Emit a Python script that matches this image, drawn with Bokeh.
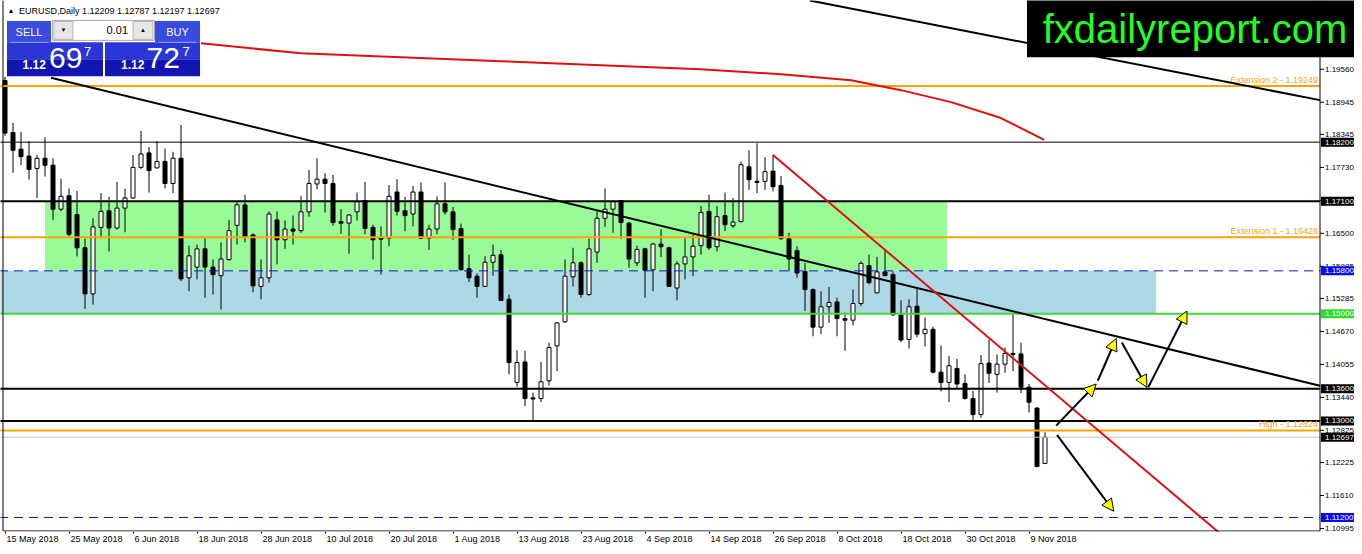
from bokeh.plotting import figure
from bokeh.models import ColumnDataSource, FixedTicker, Arrow, NormalHead, Range1d
from bokeh.core.properties import value
from bokeh.embed import file_html
from bokeh.resources import INLINE

# EURUSD daily bars, 15 May 2018 .. 13 Nov 2018 (index = bar position on chart)
opens = [1.1935, 1.1838, 1.1807, 1.1794, 1.1771, 1.1790, 1.1777, 1.1695, 1.1720, 1.1685,
         1.1623, 1.1537, 1.1661, 1.1692, 1.1660, 1.1697, 1.1716, 1.1773, 1.1800, 1.1772,
         1.1784, 1.1743, 1.1790, 1.1567, 1.1587, 1.1621, 1.1587, 1.1571, 1.1601, 1.1665,
         1.1703, 1.1647, 1.1551, 1.1567, 1.1675, 1.1638, 1.1658, 1.1655, 1.1690, 1.1742,
         1.1751, 1.1743, 1.1672, 1.1669, 1.1690, 1.1711, 1.1661, 1.1642, 1.1641, 1.1727,
         1.1692, 1.1686, 1.1727, 1.1641, 1.1658, 1.1705, 1.1690, 1.1659, 1.1584, 1.1570,
         1.1551, 1.1596, 1.1610, 1.1527, 1.1372, 1.1410, 1.1343, 1.1342, 1.1375, 1.1440,
         1.1485, 1.1569, 1.1595, 1.1536, 1.1615, 1.1678, 1.1695, 1.1711, 1.1669, 1.1595,
         1.1621, 1.1582, 1.1630, 1.1623, 1.1548, 1.1593, 1.1606, 1.1627, 1.1691, 1.1625,
         1.1683, 1.1664, 1.1672, 1.1774, 1.1747, 1.1747, 1.1766, 1.1739, 1.1640, 1.1618,
         1.1579, 1.1545, 1.1475, 1.1513, 1.1522, 1.1491, 1.1488, 1.1519, 1.1590, 1.1539,
         1.1578, 1.1573, 1.1498, 1.1452, 1.1514, 1.1463, 1.1471, 1.1391, 1.1372, 1.1398,
         1.1370, 1.1342, 1.1312, 1.1408, 1.1387, 1.1406, 1.1426, 1.1425, 1.1363, 1.1324,
         1.12209]
highs = [1.1942, 1.1856, 1.1839, 1.1822, 1.1796, 1.1829, 1.1790, 1.1752, 1.1734, 1.1729,
         1.1640, 1.1678, 1.1725, 1.1718, 1.1746, 1.1733, 1.1796, 1.1841, 1.1811, 1.1822,
         1.1808, 1.1802, 1.1852, 1.1627, 1.1629, 1.1641, 1.1601, 1.1633, 1.1675, 1.1709,
         1.1722, 1.1650, 1.1601, 1.1691, 1.1691, 1.1674, 1.1683, 1.1720, 1.1768, 1.1790,
         1.1762, 1.1759, 1.1695, 1.1686, 1.1726, 1.1746, 1.1666, 1.1663, 1.1740, 1.1751,
         1.1718, 1.1738, 1.1745, 1.1666, 1.1719, 1.1745, 1.1699, 1.1668, 1.1610, 1.1575,
         1.1607, 1.1629, 1.1619, 1.1536, 1.1432, 1.1431, 1.1353, 1.1410, 1.1446, 1.1484,
         1.1601, 1.1623, 1.1598, 1.1640, 1.1691, 1.1734, 1.1712, 1.1712, 1.1671, 1.1627,
         1.1623, 1.1632, 1.1658, 1.1625, 1.1598, 1.1641, 1.1647, 1.1701, 1.1722, 1.1701,
         1.1726, 1.1716, 1.1784, 1.1805, 1.1818, 1.1792, 1.1796, 1.1757, 1.1651, 1.1626,
         1.1595, 1.1547, 1.1542, 1.1550, 1.1530, 1.1502, 1.1545, 1.1598, 1.1610, 1.1606,
         1.1619, 1.1579, 1.1525, 1.1527, 1.1547, 1.1493, 1.1476, 1.1441, 1.1421, 1.1416,
         1.1387, 1.1356, 1.1423, 1.1452, 1.1424, 1.1437, 1.1499, 1.1446, 1.1369, 1.1326,
         1.12787]
lows = [1.1832, 1.1763, 1.1777, 1.1750, 1.1716, 1.1756, 1.1675, 1.1691, 1.1644, 1.1607,
        1.1509, 1.1517, 1.1641, 1.1616, 1.1657, 1.1652, 1.1714, 1.1770, 1.1726, 1.1771,
        1.1734, 1.1725, 1.1561, 1.1542, 1.1564, 1.1530, 1.1536, 1.1508, 1.1599, 1.1629,
        1.1633, 1.1540, 1.1527, 1.1558, 1.1592, 1.1621, 1.1629, 1.1651, 1.1681, 1.1732,
        1.1689, 1.1664, 1.1649, 1.1612, 1.1674, 1.1648, 1.1601, 1.1573, 1.1626, 1.1683,
        1.1654, 1.1663, 1.1639, 1.1619, 1.1648, 1.1685, 1.1638, 1.1581, 1.1559, 1.1530,
        1.1550, 1.1571, 1.1524, 1.1387, 1.1364, 1.1328, 1.1301, 1.1335, 1.1366, 1.1393,
        1.1483, 1.1551, 1.1530, 1.1533, 1.1595, 1.1662, 1.1651, 1.1640, 1.1586, 1.1589,
        1.1530, 1.1542, 1.1606, 1.1550, 1.1525, 1.1564, 1.1570, 1.1610, 1.1619, 1.1616,
        1.1654, 1.1660, 1.1670, 1.1731, 1.1725, 1.1731, 1.1728, 1.1638, 1.1579, 1.1567,
        1.1505, 1.1458, 1.1462, 1.1483, 1.1458, 1.1431, 1.1478, 1.1514, 1.1555, 1.1538,
        1.1570, 1.1496, 1.1447, 1.1435, 1.1456, 1.1439, 1.1389, 1.1355, 1.1335, 1.1361,
        1.1340, 1.1302, 1.1306, 1.1371, 1.1353, 1.1390, 1.1393, 1.1352, 1.1316, 1.1214,
        1.12197]
closes = [1.1837, 1.1805, 1.1793, 1.1769, 1.1790, 1.1777, 1.1695, 1.1719, 1.1648, 1.1623,
          1.1537, 1.1662, 1.1691, 1.1660, 1.1697, 1.1716, 1.1773, 1.1798, 1.1767, 1.1784,
          1.1743, 1.1790, 1.1565, 1.1608, 1.1621, 1.1587, 1.1573, 1.1602, 1.1655, 1.1703,
          1.1644, 1.1552, 1.1567, 1.1686, 1.1638, 1.1658, 1.1654, 1.1690, 1.1743, 1.1751,
          1.1743, 1.1670, 1.1669, 1.1684, 1.1709, 1.1659, 1.1638, 1.1639, 1.1719, 1.1691,
          1.1683, 1.1727, 1.1641, 1.1658, 1.1705, 1.1690, 1.1657, 1.1582, 1.1567, 1.1551,
          1.1596, 1.1609, 1.1525, 1.1409, 1.1409, 1.1342, 1.1341, 1.1373, 1.1437, 1.1483,
          1.1570, 1.1595, 1.1536, 1.1621, 1.1678, 1.1695, 1.1709, 1.1670, 1.1602, 1.1620,
          1.1581, 1.1630, 1.1625, 1.1551, 1.1593, 1.1606, 1.1626, 1.1689, 1.1623, 1.1681,
          1.1666, 1.1671, 1.1778, 1.1750, 1.1745, 1.1765, 1.1737, 1.1640, 1.1602, 1.1576,
          1.1545, 1.1475, 1.1513, 1.1521, 1.1491, 1.1488, 1.1519, 1.1594, 1.1558, 1.1578,
          1.1571, 1.1498, 1.1451, 1.1513, 1.1462, 1.1471, 1.1391, 1.1372, 1.1403, 1.1369,
          1.1342, 1.1312, 1.1407, 1.1389, 1.1406, 1.1426, 1.1424, 1.1363, 1.1335, 1.1215,
          1.12697]
assert len(opens) == len(highs) == len(lows) == len(closes) == 131

# time axis: a label every 8 bars
date_bars = [0, 8, 16, 24, 32, 40, 48, 56, 64, 72, 80, 88, 96, 104, 112, 120, 128]
date_labels = ["15 May 2018", "25 May 2018", "6 Jun 2018", "18 Jun 2018", "28 Jun 2018",
               "10 Jul 2018", "20 Jul 2018", "1 Aug 2018", "13 Aug 2018", "23 Aug 2018",
               "4 Sep 2018", "14 Sep 2018", "26 Sep 2018", "8 Oct 2018", "18 Oct 2018",
               "30 Oct 2018", "9 Nov 2018"]

# price scale
price_ticks = [1.19560, 1.18945, 1.18345, 1.17730, 1.17115, 1.16500, 1.15885, 1.15285,
               1.14670, 1.14055, 1.13440, 1.12825, 1.12225, 1.11610, 1.10995]

# drawn objects
ext_levels = [1.19249, 1.16428, 1.12824]
ext_labels = ["Extension 2 - 1.19249", "Extension 1 - 1.16428", "High - 1.12824"]
sr_thin = [1.18200]
sr_levels = [1.17100, 1.13600, 1.13000]
green_level = [1.15000]
dash_levels = [1.15800, 1.11200]
bid_level = [1.12697]

green_zone = dict(left=[5.0], right=[117.75], top=[1.17100], bottom=[1.15800])
blue_zone = dict(left=[-1.0], right=[143.9], top=[1.15800], bottom=[1.15000])

trend_main_bars, trend_main_prices = [5.75, 164.375], [1.19400, 1.13657]
trend_top_bars, trend_top_prices = [100.6, 164.375], [1.20842, 1.18984]
trend_red_bars, trend_red_prices = [96.0, 153.0], [1.17960, 1.10760]

ma_bars = [24.5, 37, 49.5, 62, 74.5, 87, 97, 105.75, 112, 118.25, 124.5, 129.9]
ma_prices = [1.20043, 1.19857, 1.19783, 1.19709, 1.19634, 1.19560, 1.19467, 1.19356,
             1.19170, 1.18947, 1.18650, 1.18241]

arrow_x0 = [131.4, 136.6, 139.6, 142.9, 131.5]
arrow_y0 = [1.12914, 1.13750, 1.14464, 1.13627, 1.12741]
arrow_x1 = [136.4, 138.9, 142.75, 147.75, 138.6]
arrow_y1 = [1.13689, 1.14538, 1.13627, 1.15051, 1.11316]

# price tags on the scale
tag_levels = [1.18200, 1.17100, 1.15800, 1.15000, 1.13600, 1.13000, 1.12697, 1.11200]
tag_colors = ["black", "black", "#0A0AF0", "#2CE02C", "black", "black", "black", "#0A0AF0"]

SANS = "Liberation Sans"
ARIAL_W = {" ": .278, "M": .833, "J": .5, "A": .667, "S": .667, "O": .778, "N": .722,
           "a": .556, "y": .5, "u": .556, "n": .556, "l": .222, "g": .556, "e": .556,
           "p": .556, "c": .5, "t": .278, "o": .556, "v": .5}


def bx(px):
    # screenshot column -> bar index (8 px per bar, bar 0 at column 4)
    return (px - 4) / 8.0


def py(px):
    # screenshot row -> price
    return 1.20842 - 0.0001858 * px


def dp(px):
    # pixel height -> price difference
    return 0.0001858 * px


AXIS_X = bx(1319)

p = figure(width=1354, height=546, x_range=Range1d(bx(-0.5), bx(1353.5)),
           y_range=Range1d(py(533), py(0)),
           output_backend="svg", toolbar_location=None, tools="",
           min_border_left=0, min_border_top=0, min_border_right=0, min_border_bottom=13)
p.yaxis.visible = False
p.xgrid.visible = False
p.ygrid.visible = False
p.background_fill_color = "white"
p.border_fill_color = "white"
p.outline_line_color = None

# zones behind the bars
p.quad(source=ColumnDataSource(green_zone), left="left", right="right", top="top",
       bottom="bottom", fill_color="#98FB98", line_color=None)
p.quad(source=ColumnDataSource(blue_zone), left="left", right="right", top="top",
       bottom="bottom", fill_color="#ADD8E6", line_color=None)

# candles
idx = list(range(len(opens)))
src = ColumnDataSource(dict(
    x=idx, high=highs, low=lows,
    top=[max(o, c) for o, c in zip(opens, closes)],
    bottom=[min(o, c) for o, c in zip(opens, closes)],
    fill=["white" if c >= o else "black" for o, c in zip(opens, closes)],
))
p.segment(x0="x", y0="low", x1="x", y1="high", source=src, line_color="black", line_width=1)
p.vbar(x="x", width=0.5, top="top", bottom="bottom", fill_color="fill",
       line_color="black", line_width=1, source=src)


def hlines(levels, **kw):
    p.segment(x0=[bx(-2)] * len(levels), x1=[AXIS_X] * len(levels), y0=levels, y1=levels, **kw)


# horizontal levels (they stop at the price scale)
hlines(bid_level, line_color="#C0C0C0", line_width=1)
hlines(ext_levels, line_color="#FFA500", line_width=2)
hlines(sr_thin, line_color="black", line_width=1)
hlines(sr_levels, line_color="black", line_width=2)
hlines(green_level, line_color="#3CD83C", line_width=2)
hlines(dash_levels, line_color="#1010E0", line_width=1, line_dash="9 6")

p.text(x=[bx(1317)] * len(ext_levels), y=ext_levels, text=ext_labels, y_offset=-1,
       text_align="right", text_baseline="bottom", text_color="#F5A623",
       text_font=value(SANS), text_font_size="9px")

# trend lines and moving average
p.line(trend_main_bars, trend_main_prices, line_color="black", line_width=2)
p.line(trend_top_bars, trend_top_prices, line_color="black", line_width=2)
p.line(trend_red_bars, trend_red_prices, line_color="#E01010", line_width=2)
p.line(ma_bars, ma_prices, line_color="#E01010", line_width=2)

arrows = ColumnDataSource(dict(x0=arrow_x0, y0=arrow_y0, x1=arrow_x1, y1=arrow_y1))
p.add_layout(Arrow(source=arrows, x_start="x0", y_start="y0", x_end="x1", y_end="y1",
                   line_color="black", line_width=2,
                   end=NormalHead(size=12, fill_color="#FFFF00", line_color="black",
                                  line_width=1)))

# chart window border and price scale
p.segment(x0=[bx(2), AXIS_X], y0=[py(0), py(0)], x1=[bx(2), AXIS_X], y1=[py(532.5), py(532.5)],
          line_color="black", line_width=1)
p.segment(x0=[bx(2)], y0=[py(532.5)], x1=[AXIS_X], y1=[py(532.5)],
          line_color="black", line_width=1)
p.segment(x0=[AXIS_X] * len(price_ticks), x1=[bx(1323)] * len(price_ticks),
          y0=price_ticks, y1=price_ticks, line_color="black", line_width=1)
p.text(x=[bx(1324)] * len(price_ticks), y=price_ticks, text=[f"{v:.5f}" for v in price_ticks],
       text_align="left", text_baseline="middle", text_font=value(SANS),
       text_font_size="8px", text_color="black")
p.quad(left=[bx(1320)] * len(tag_levels), right=[bx(1360)] * len(tag_levels),
       top=[v + dp(4.5) for v in tag_levels], bottom=[v - dp(4.5) for v in tag_levels],
       fill_color=tag_colors, line_color=None)
p.text(x=[bx(1324)] * len(tag_levels), y=tag_levels, text=[f"{v:.5f}" for v in tag_levels],
       text_align="left", text_baseline="middle", text_font=value(SANS),
       text_font_size="8px", text_color="white")

# chart title line
p.text(x=[bx(10)], y=[py(10.5)], text=["\u25b2"], text_align="center", text_baseline="middle",
       text_font=value(SANS), text_font_size="7px", text_color="black")
p.text(x=[bx(18)], y=[py(10.5)], text=["EURUSD,Daily  1.12209 1.12787 1.12197 1.12697"],
       text_baseline="middle", text_font=value(SANS), text_font_size="9px",
       text_color="black")

# one-click trading panel
p.quad(left=[bx(6), bx(104)], right=[bx(102), bx(199)], top=[py(42), py(42)],
       bottom=[py(59), py(59)], fill_color="#2A36D6", line_color=None)
p.quad(left=[bx(6), bx(104)], right=[bx(102), bx(199)], top=[py(59), py(59)],
       bottom=[py(76), py(76)], fill_color="#1216B0", line_color=None)
p.quad(left=[bx(6), bx(154)], right=[bx(50), bx(199)], top=[py(20.5), py(20.5)],
       bottom=[py(42), py(42)], fill_color="#3A4BE0", line_color=None)
p.segment(x0=[bx(10), bx(158)], y0=[py(42), py(42)], x1=[bx(47), bx(195)],
          y1=[py(42), py(42)], line_color="#9AA6F0", line_width=1)
p.quad(left=[bx(51.5)], right=[bx(153.5)], top=[py(20)], bottom=[py(40)],
       fill_color="white", line_color="#A8A8A8")
p.quad(left=[bx(53), bx(132)], right=[bx(72), bx(152)], top=[py(21), py(21)],
       bottom=[py(39), py(39)], fill_color="#E6E6E6", line_color="#B4B4B4")
p.text(x=[bx(62.5), bx(142)], y=[py(30), py(30)], text=["\u25bc", "\u25b2"],
       text_align="center", text_baseline="middle", text_font=value(SANS),
       text_font_size="6px", text_color="black")
p.text(x=[bx(127)], y=[py(30)], text=["0.01"], text_align="right", text_baseline="middle",
       text_font=value(SANS), text_font_size="11px", text_color="black")
p.text(x=[bx(28), bx(176.5)], y=[py(31.5), py(31.5)], text=["SELL", "BUY"],
       text_align="center", text_baseline="middle", text_font=value(SANS),
       text_font_size="11px", text_color="white")
p.text(x=[bx(21.5), bx(120)], y=[py(64), py(64)], text=["1.12", "1.12"],
       text_baseline="middle", text_font=value(SANS), text_font_size="12px",
       text_font_style="bold", text_color="white")
p.text(x=[bx(48), bx(145.5)], y=[py(58), py(58)], text=["69", "72"],
       text_baseline="middle", text_font=value(SANS), text_font_size="30px",
       text_color="white")
p.text(x=[bx(83), bx(181.5)], y=[py(51.5), py(51.5)], text=["7", "7"],
       text_baseline="middle", text_font=value(SANS), text_font_size="13px",
       text_color="white")

# site banner
p.quad(left=[bx(1026)], right=[bx(1362)], top=[py(-2)], bottom=[py(57)],
       fill_color="black", line_color=None)
p.text(x=[bx(1194)], y=[py(29)], text=["fxdailyreport.com"], text_align="center",
       text_baseline="middle", text_font=value(SANS), text_font_size="40px",
       text_color="#22FF22")


# time axis: MT4 writes each date to the right of its tick, so the label is centred
# half a label width right of the tick; the tick marks themselves are minor ticks
def text_w(s, size=9):
    return size * sum(ARIAL_W.get(ch, .556) for ch in s)


label_pos = [round(b + (1.5 + text_w(s) / 2) / 8.0, 3) for b, s in zip(date_bars, date_labels)]
xax = p.xaxis[0]
xax.ticker = FixedTicker(ticks=label_pos, minor_ticks=date_bars)
xax.major_label_overrides = {pos: s for pos, s in zip(label_pos, date_labels)}
xax.major_tick_line_color = None
xax.major_tick_in = 0
xax.major_tick_out = 0
xax.minor_tick_in = 0
xax.minor_tick_out = 2
xax.minor_tick_line_color = "black"
xax.major_label_standoff = 0
xax.axis_line_color = None
xax.major_label_text_font = SANS
xax.major_label_text_font_size = "9px"
xax.major_label_text_color = "black"

open("out.html", "w").write(file_html(p, INLINE))
